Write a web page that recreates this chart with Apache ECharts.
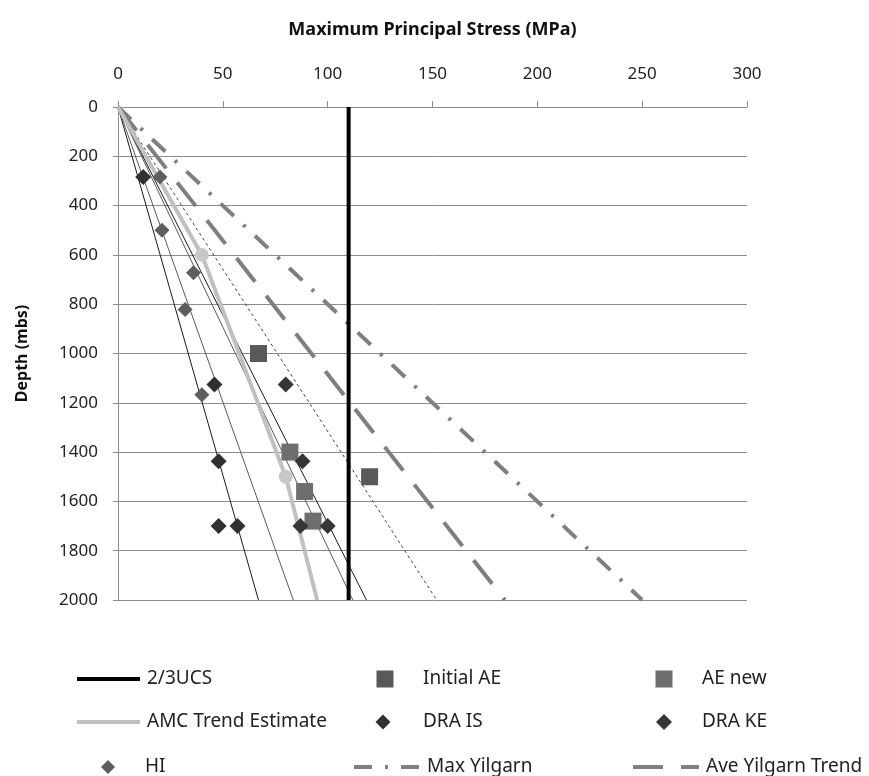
<!DOCTYPE html>
<html>
<head>
<meta charset="utf-8">
<script src="https://cdn.jsdelivr.net/npm/echarts@6/dist/echarts.min.js"></script>
<style>
html, body { margin: 0; padding: 0; background: #fff; }
#chart { width: 869px; height: 776px; }
</style>
</head>
<body>
<div id="chart"></div>
<script>
// stress (MPa) vs depth (mbs); every line runs 0 -> 2000 m
var depthEnds = [0, 2000];
var ucsStress = [110, 110];          // 2/3UCS
var thin1Stress = [0, 67];           // unlabelled trend lines
var thin2Stress = [0, 83.6];
var thin3Stress = [0, 112];
var thin4Stress = [0, 118.5];
var dottedStress = [0, 152];
var aveYilgarnStress = [0, 184.5];
var maxYilgarnStress = [0, 250];

var amcDepth = [0, 600, 1500, 2000];
var amcStress = [0, 40, 80, 95];
var amcPtDepth = [600, 1500];
var amcPtStress = [40, 80];

var initialAEStress = [67, 120];
var initialAEDepth = [1000, 1500];
var aeNewStress = [82, 89, 93];
var aeNewDepth = [1400, 1560, 1680];
var draISStress = [12, 46, 48, 48, 57];
var draISDepth = [284, 1126, 1437, 1700, 1700];
var draKEStress = [80, 88, 87, 100];
var draKEDepth = [1126, 1437, 1700, 1700];
var hiStress = [20, 21, 36, 32, 40];
var hiDepth = [284, 500, 672, 822, 1167];

function pts(xs, ys) {
    return xs.map(function (x, i) { return [x, ys[i]]; });
}

var font = 'Noto Sans';
var maxDash = [18, 13, 3, 13];
var aveDash = [30, 18];

function lineSeries(name, xs, ys, color, width, type) {
    return {
        name: name, type: 'line', data: pts(xs, ys), symbol: 'none',
        lineStyle: { color: color, width: width, type: type || 'solid' },
        itemStyle: { color: color },
        silent: true, animation: false
    };
}
function dotSeries(name, xs, ys, symbol, size, color) {
    return {
        name: name, type: 'scatter', data: pts(xs, ys), symbol: symbol,
        symbolSize: size, itemStyle: { color: color, opacity: 1 }, animation: false, z: 5
    };
}

// one legend box per entry so the 3x3 layout sits where it should
var legendText = { fontFamily: font, fontSize: 19, color: '#222', lineHeight: 22 };
function legendLine(name, left, rowCenter, color, type) {
    return {
        data: [name], left: left, top: rowCenter - 11, padding: 0,
        itemWidth: left === 75 ? 63 : 66, itemHeight: 4, itemGap: 0,
        lineStyle: { color: color, width: 4, type: type || 'solid', cap: 'butt' },
        itemStyle: { opacity: 0 },
        textStyle: Object.assign({ padding: [0, 0, 0, 2] }, legendText)
    };
}
function legendMark(name, center, rowCenter, size, textX) {
    var left = center - size / 2;
    return {
        data: [name], left: left, top: rowCenter - 11, padding: 0,
        itemWidth: size, itemHeight: size, itemGap: 0,
        textStyle: Object.assign({ padding: [0, 0, 0, textX - (left + size + 5)] }, legendText)
    };
}
var row1 = 679, row2 = 722, row3 = 767;

var option = {
    backgroundColor: '#fff',
    grid: { left: 118, right: 122, top: 107, bottom: 176 },
    legend: [
        legendLine('2/3UCS', 75, row1, '#000'),
        legendMark('Initial AE', 385, row1, 17, 423),
        legendMark('AE new', 664, row1, 17, 702),
        legendLine('AMC Trend Estimate', 75, row2, '#c0c0c0'),
        legendMark('DRA IS', 383, row2, 15, 423),
        legendMark('DRA KE', 664, row2, 16, 702),
        legendMark('HI', 108, row3, 14, 145),
        legendLine('Max Yilgarn', 352, row3, '#7f7f7f', maxDash),
        legendLine('Ave Yilgarn Trend', 631, row3, '#7f7f7f', aveDash)
    ],
    xAxis: {
        type: 'value', position: 'top', min: 0, max: 300, interval: 50,
        name: 'Maximum Principal Stress (MPa)', nameLocation: 'middle', nameGap: 68,
        nameTextStyle: { fontFamily: font, fontSize: 18, fontWeight: 'bold', color: '#111' },
        axisLine: { show: true, lineStyle: { color: '#8c8c8c', width: 1 } },
        axisTick: { show: true, length: 6, lineStyle: { color: '#8c8c8c' } },
        axisLabel: { fontFamily: font, fontSize: 17, color: '#222', margin: 24 },
        splitLine: { show: false }
    },
    yAxis: {
        type: 'value', inverse: true, min: 0, max: 2000, interval: 200,
        name: 'Depth (mbs)', nameLocation: 'middle', nameGap: 88,
        nameTextStyle: { fontFamily: font, fontSize: 16, fontWeight: 'bold', color: '#111' },
        axisLine: { show: true, lineStyle: { color: '#8c8c8c', width: 1 } },
        axisTick: { show: true, length: 5, lineStyle: { color: '#8c8c8c' } },
        axisLabel: {
            fontFamily: font, fontSize: 17, color: '#222', margin: 20,
            formatter: function (v) { return String(v); }
        },
        splitLine: { show: true, lineStyle: { color: '#8c8c8c', width: 1 } }
    },
    series: [
        lineSeries('t1', thin1Stress, depthEnds, '#1a1a1a', 1),
        lineSeries('t2', thin2Stress, depthEnds, '#5a5a5a', 1),
        lineSeries('t3', thin3Stress, depthEnds, '#5a5a5a', 1),
        lineSeries('t4', thin4Stress, depthEnds, '#1a1a1a', 1),
        lineSeries('dotted', dottedStress, depthEnds, '#444', 1, [3, 3]),
        lineSeries('Max Yilgarn', maxYilgarnStress, depthEnds, '#7f7f7f', 4, maxDash),
        lineSeries('Ave Yilgarn Trend', aveYilgarnStress, depthEnds, '#7f7f7f', 4, aveDash),
        lineSeries('AMC Trend Estimate', amcStress, amcDepth, '#c0c0c0', 4),
        lineSeries('2/3UCS', ucsStress, depthEnds, '#000', 4),
        dotSeries('amc points', amcPtStress, amcPtDepth, 'circle', 14, '#c8c8c8'),
        dotSeries('HI', hiStress, hiDepth, 'diamond', 15, '#5e5e5e'),
        dotSeries('Initial AE', initialAEStress, initialAEDepth, 'rect', 17, '#595959'),
        dotSeries('AE new', aeNewStress, aeNewDepth, 'rect', 17, '#6e6e6e'),
        dotSeries('DRA IS', draISStress, draISDepth, 'diamond', 16, '#303030'),
        dotSeries('DRA KE', draKEStress, draKEDepth, 'diamond', 16, '#363636')
    ]
};

var chart = echarts.init(document.getElementById('chart'));
chart.setOption(option);
</script>
</body>
</html>
